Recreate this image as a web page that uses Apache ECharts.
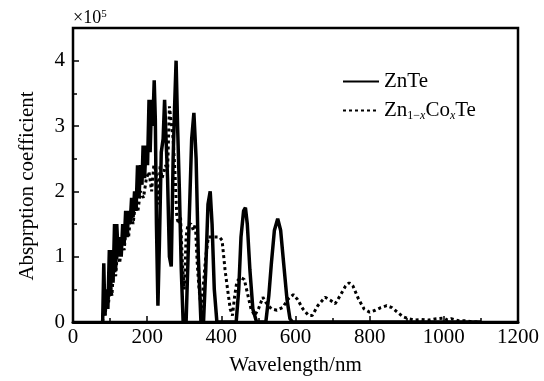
<!DOCTYPE html>
<html>
<head>
<meta charset="utf-8">
<script src="https://cdn.jsdelivr.net/npm/echarts@6/dist/echarts.min.js"></script>
<style>
  html, body { margin: 0; padding: 0; background: #fff; }
  #chart { width: 544px; height: 381px; }
</style>
</head>
<body>
<div id="chart"></div>
<script>
// values in units of 1e5
const znteX = [80, 83, 86, 90, 94, 98, 101, 105, 108, 112, 115, 118, 122, 126, 130, 134, 138, 142, 146, 150,
  154, 158, 162, 166, 170, 174, 178, 182, 186, 189, 193, 197, 201, 205, 208, 212, 215, 219, 222, 225,
  229, 233, 238, 243, 247, 251, 255, 260, 265, 270, 274, 278, 282, 287, 292, 297, 305, 313, 320, 326,
  332, 338, 345, 352, 358, 364, 370, 375, 381, 388, 440, 447, 453, 460, 465, 470, 477, 485, 495, 520,
  528, 535, 543, 552, 560, 568, 577, 585, 592, 1100];
const znteY = [0, 0.9, 0.1, 0.5, 0.2, 1.1, 0.4, 1.1, 0.6, 1.5, 0.8, 1.5, 1.0, 1.3, 1.0, 1.5, 1.2, 1.7, 1.3, 1.7,
  1.5, 1.9, 1.6, 2.0, 1.7, 2.4, 1.9, 2.4, 2.1, 2.7, 2.2, 2.7, 2.4, 3.4, 2.6, 3.4, 3.0, 3.7, 3.1, 1.5,
  0.25, 1.2, 2.6, 2.8, 3.4, 3.4, 2.2, 1.0, 0.85, 2.5, 3.3, 4.0, 3.0, 2.0, 0.8, 0, 0, 1.5, 2.8, 3.2,
  2.5, 1.0, 0, 0, 0.8, 1.8, 2.0, 1.5, 0.5, 0, 0, 0.5, 1.3, 1.7, 1.75, 1.5, 0.8, 0.2, 0, 0,
  0.4, 0.9, 1.4, 1.58, 1.4, 0.9, 0.35, 0.05, 0, 0];

const coteX = [80, 83, 87, 92, 96, 100, 105, 110, 115, 120, 126, 132, 138, 144, 150, 156, 162, 168, 175, 182,
  190, 198, 205, 212, 218, 224, 230, 235, 240, 245, 250, 255, 260, 265, 270, 275, 280, 285, 290, 295,
  300, 305, 310, 318, 325, 330, 335, 340, 346, 352, 358, 365, 375, 385, 395, 402, 410, 418, 424, 430,
  436, 442, 452, 462, 470, 480, 490, 500, 512, 520, 535, 550, 565, 580, 594, 605, 620, 635, 645, 660,
  680, 695, 707, 720, 735, 745, 755, 770, 785, 800, 815, 830, 846, 860, 875, 890, 905, 920, 940, 960,
  980, 1000, 1010, 1020, 1040, 1060, 1080, 1100];
const coteY = [0, 0.3, 0.1, 0.5, 0.3, 0.6, 0.4, 0.9, 0.7, 1.1, 0.9, 1.3, 1.1, 1.5, 1.3, 1.7, 1.5, 1.8, 1.7, 2.0,
  1.9, 2.2, 2.3, 2.0, 2.4, 2.3, 1.8, 2.4, 2.2, 2.3, 2.4, 2.3, 3.3, 3.3, 2.8, 2.3, 1.6, 1.5, 1.6, 0.9,
  0.5, 1.3, 1.5, 1.5, 1.4, 1.5, 0.9, 0.5, 0.2, 0.6, 1.0, 1.3, 1.3, 1.3, 1.3, 1.25, 0.8, 0.45, 0.2, 0.1,
  0.4, 0.62, 0.68, 0.65, 0.45, 0.2, 0.1, 0.2, 0.38, 0.3, 0.2, 0.18, 0.22, 0.35, 0.42, 0.35, 0.2, 0.1, 0.1, 0.25,
  0.38, 0.33, 0.28, 0.4, 0.55, 0.6, 0.55, 0.35, 0.2, 0.15, 0.18, 0.22, 0.25, 0.22, 0.15, 0.08, 0.05, 0.03, 0.04, 0.03,
  0.05, 0.06, 0.03, 0.05, 0.02, 0.02, 0, 0];

const xTicks = [0, 200, 400, 600, 800, 1000, 1200];
const yTicks = [0, 1, 2, 3, 4];

const font = "Liberation Serif";
const toPairs = (xs, ys) => xs.map((x, i) => [x, ys[i]]);

const chart = echarts.init(document.getElementById("chart"));

chart.setOption({
  backgroundColor: "#fff",
  animation: false,
  title: {
    text: "×10{sup|5}",
    left: 68,
    top: 4,
    textStyle: {
      fontFamily: font,
      fontSize: 18,
      fontWeight: "normal",
      color: "#000",
      rich: {
        sup: { fontFamily: font, fontSize: 11, verticalAlign: "top", padding: [0, 0, 8, 0], color: "#000" },
      },
    },
  },
  legend: {
    orient: "vertical",
    left: 337,
    top: 66,
    itemWidth: 36,
    itemHeight: 14,
    itemGap: 8,
    itemStyle: { opacity: 0 },
    textStyle: {
      fontFamily: font,
      fontSize: 21,
      color: "#000",
      rich: {
        s: { fontFamily: font, fontSize: 12, padding: [11, 0, 0, 0], color: "#000" },
        si: { fontFamily: font, fontSize: 12, fontStyle: "italic", padding: [11, 0, 0, 0], color: "#000" },
      },
    },
    formatter: (name) => (name === "ZnTe" ? "ZnTe" : "Zn{s|1−}{si|x}Co{si|x}Te"),
    data: ["ZnTe", "Zn1-xCoxTe"],
  },
  grid: {
    left: 73,
    right: 26,
    top: 28,
    bottom: 58,
    show: true,
    borderColor: "#000",
    borderWidth: 2.5,
  },
  xAxis: {
    type: "value",
    min: 0,
    max: 1200,
    interval: 200,
    name: "Wavelength/nm",
    nameLocation: "middle",
    nameGap: 33,
    nameTextStyle: { fontFamily: font, fontSize: 21, color: "#000" },
    axisLine: { lineStyle: { color: "#000", width: 3 } },
    axisTick: { inside: true, length: 6, lineStyle: { color: "#000", width: 1.5 } },
    minorTick: { show: true, splitNumber: 2, length: 4, lineStyle: { color: "#000", width: 1.5 } },
    axisLabel: {
      margin: 5,
      fontFamily: font,
      fontSize: 21,
      color: "#000",
      formatter: (v) => (xTicks.includes(v) ? String(v) : ""),
    },
    splitLine: { show: false },
  },
  yAxis: {
    type: "value",
    min: 0,
    max: 4.5,
    interval: 1,
    name: "Absprption coefficient",
    nameLocation: "middle",
    nameGap: 35,
    nameTextStyle: { fontFamily: font, fontSize: 21, color: "#000", padding: [0, 22, 0, 0] },
    axisLine: { show: true, lineStyle: { color: "#000", width: 2 } },
    axisTick: { inside: true, length: 6, lineStyle: { color: "#000", width: 1.5 } },
    minorTick: { show: true, splitNumber: 2, length: 4, lineStyle: { color: "#000", width: 1.5 } },
    axisLabel: {
      margin: 8,
      fontFamily: font,
      fontSize: 21,
      color: "#000",
      showMaxLabel: false,
      formatter: (v) => (yTicks.includes(v) ? String(v) : ""),
    },
    splitLine: { show: false },
  },
  series: [
    {
      name: "ZnTe",
      type: "line",
      symbol: "none",
      data: toPairs(znteX, znteY),
      lineStyle: { color: "#000", width: 3.5 },
      itemStyle: { color: "#000" },
      z: 3,
    },
    {
      name: "Zn1-xCoxTe",
      type: "line",
      symbol: "none",
      data: toPairs(coteX, coteY),
      lineStyle: { color: "#000", width: 3, type: [3, 3] },
      itemStyle: { color: "#000" },
      z: 2,
    },
  ],
});
</script>
</body>
</html>
